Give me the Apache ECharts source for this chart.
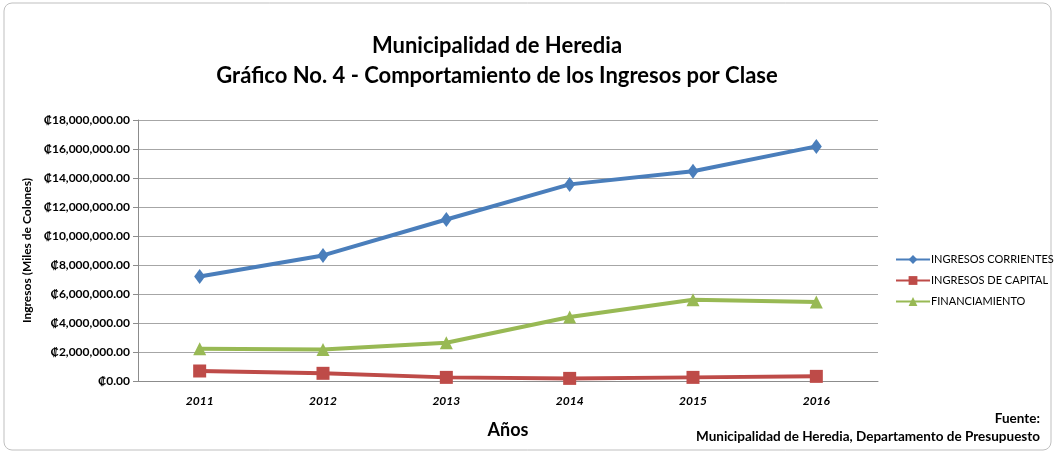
<!DOCTYPE html>
<html>
<head>
<meta charset="utf-8">
<script src="https://cdn.jsdelivr.net/npm/echarts@6/dist/echarts.min.js"></script>
<style>
  html, body { margin: 0; padding: 0; background: #fff; }
  #chart { width: 1056px; height: 453px; }
</style>
</head>
<body>
<div id="chart"></div>
<script>
const years = ["2011", "2012", "2013", "2014", "2015", "2016"];
const corrientes = [7210000, 8660000, 11140000, 13560000, 14460000, 16180000];
const capital = [690000, 530000, 250000, 180000, 250000, 320000];
const financiamiento = [2230000, 2180000, 2640000, 4410000, 5610000, 5450000];

const font = "Lato, 'Open Sans', sans-serif";

function money(v) {
  return "₡" + v.toLocaleString("en-US", { minimumFractionDigits: 2, maximumFractionDigits: 2 });
}

const chart = echarts.init(document.getElementById("chart"));

chart.setOption({
  animation: false,
  textStyle: { fontFamily: font },
  title: {
    text: "Municipalidad de Heredia\nGráfico No. 4 - Comportamiento de los Ingresos por Clase",
    left: 492,
    top: 26,
    textAlign: "center",
    textStyle: { fontSize: 22, fontWeight: "bold", color: "#000", lineHeight: 30, fontFamily: font }
  },
  graphic: [
    {
      type: "rect",
      shape: { x: 4, y: 3, width: 1047, height: 447, r: 8 },
      style: { fill: "none", stroke: "#bfbfbf", lineWidth: 1 }
    },
    {
      type: "text",
      x: 1040,
      y: 419,
      style: {
        text: "Fuente:",
        align: "right",
        verticalAlign: "middle",
        fontSize: 13.5,
        fontWeight: "bold",
        fill: "#000",
        fontFamily: font
      }
    },
    {
      type: "text",
      x: 1040,
      y: 437,
      style: {
        text: "Municipalidad de Heredia, Departamento de Presupuesto",
        align: "right",
        verticalAlign: "middle",
        fontSize: 13.5,
        fontWeight: "bold",
        fill: "#000",
        fontFamily: font
      }
    }
  ],
  legend: {
    orient: "vertical",
    left: 890,
    top: 249,
    itemGap: 10,
    itemWidth: 34,
    itemHeight: 11,
    textStyle: { fontSize: 11, color: "#000", fontFamily: font, padding: [0, 0, 0, -4] },
    data: ["INGRESOS CORRIENTES", "INGRESOS DE CAPITAL", "FINANCIAMIENTO"]
  },
  grid: { left: 138, right: 178, top: 120, bottom: 72 },
  xAxis: {
    type: "category",
    data: years,
    boundaryGap: true,
    name: "Años",
    nameLocation: "middle",
    nameGap: 40,
    nameTextStyle: { fontSize: 18, fontWeight: "bold", color: "#000", fontFamily: font },
    axisLine: { lineStyle: { color: "#8c8c8c" } },
    axisTick: { show: false },
    axisLabel: { fontSize: 12, fontWeight: "bold", fontStyle: "italic", color: "#000", margin: 14, fontFamily: font }
  },
  yAxis: {
    type: "value",
    min: 0,
    max: 18000000,
    interval: 2000000,
    name: "Ingresos (Miles de Colones)",
    nameLocation: "middle",
    nameGap: 97,
    nameTextStyle: { fontSize: 12, fontWeight: "bold", color: "#000", fontFamily: font },
    axisLine: { show: true, lineStyle: { color: "#8c8c8c" } },
    axisTick: { show: true, length: 5, lineStyle: { color: "#8c8c8c" } },
    splitLine: { lineStyle: { color: "#a6a6a6", width: 1 } },
    axisLabel: { fontSize: 12, fontWeight: "bold", color: "#000", margin: 8, formatter: money, fontFamily: font }
  },
  series: [
    {
      name: "INGRESOS CORRIENTES",
      type: "line",
      data: corrientes,
      symbol: "diamond",
      symbolSize: [11, 15],
      lineStyle: { width: 4, color: "#4a7ebb" },
      itemStyle: { color: "#4a7ebb" }
    },
    {
      name: "INGRESOS DE CAPITAL",
      type: "line",
      data: capital,
      symbol: "rect",
      symbolSize: 13,
      lineStyle: { width: 4, color: "#be4b48" },
      itemStyle: { color: "#be4b48" }
    },
    {
      name: "FINANCIAMIENTO",
      type: "line",
      data: financiamiento,
      symbol: "triangle",
      symbolSize: 13,
      lineStyle: { width: 4, color: "#98b954" },
      itemStyle: { color: "#98b954" }
    }
  ]
});
</script>
</body>
</html>
